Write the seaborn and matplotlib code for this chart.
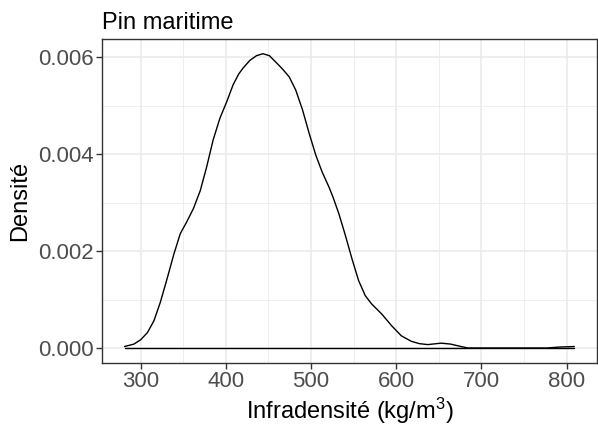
import numpy as np
import pandas as pd
import matplotlib
matplotlib.use("Agg")
import matplotlib.pyplot as plt
from matplotlib.ticker import MultipleLocator
import seaborn as sns

# density curve (kg/m3 vs density)
infradensite = [281, 292, 300, 308, 315.5, 323, 331, 339, 346.5, 354, 362, 370,
                377.5, 385, 393, 401, 408.5, 415, 420, 428, 436, 443.4, 451, 459,
                466.7, 474.4, 482, 490, 497.7, 505.5, 513, 521, 526, 532.6, 540.3,
                548, 555.8, 563.6, 571, 583, 594.5, 606, 617.8, 627, 637, 652.7,
                664, 676, 684, 730, 777, 792, 809]
densite = [0.00003, 0.00008, 0.00017, 0.00032, 0.00056, 0.00094, 0.00143, 0.00194,
           0.00236, 0.00260, 0.00288, 0.00325, 0.00374, 0.00429, 0.00474, 0.00508,
           0.00543, 0.00565, 0.00577, 0.00593, 0.00603, 0.00607, 0.00603, 0.00589,
           0.00575, 0.00559, 0.00532, 0.00491, 0.00443, 0.00398, 0.00363, 0.00332,
           0.00310, 0.00277, 0.00232, 0.00184, 0.00139, 0.00108, 0.00091, 0.00070,
           0.00046, 0.00025, 0.000137, 0.00009, 0.00007, 0.00010, 0.00008, 0.00003,
           0.0, 0.0, 0.0, 0.00002, 0.00003]

x_ticks = [300, 400, 500, 600, 700, 800]
y_ticks = [0.000, 0.002, 0.004, 0.006]

sns.set_theme(style="whitegrid")
plt.rcParams["font.family"] = ["Liberation Sans", "DejaVu Sans"]
plt.rcParams["mathtext.default"] = "regular"

df = pd.DataFrame({"x": infradensite, "y": densite})
base = pd.DataFrame({"x": [min(infradensite), max(infradensite)], "y": [0, 0]})

fig = plt.figure(figsize=(5.98, 4.30), dpi=100)
ax = fig.add_axes([0.1706, 0.1565, 0.998 - 0.1706, 0.9093 - 0.1565])

sns.lineplot(data=df, x="x", y="y", sort=False, estimator=None, color="black",
             linewidth=1.0, ax=ax)
sns.lineplot(data=base, x="x", y="y", sort=False, estimator=None, color="black",
             linewidth=1.0, ax=ax)

# ggplot-like expansion of 5%
xr = max(infradensite) - min(infradensite)
ax.set_xlim(min(infradensite) - 0.05 * xr, max(infradensite) + 0.05 * xr)
yr = max(densite)
ax.set_ylim(-0.05 * yr, yr * 1.05)

ax.set_xticks(x_ticks)
ax.set_yticks(y_ticks)
ax.set_yticklabels([f"{v:.3f}" for v in y_ticks])
ax.xaxis.set_minor_locator(MultipleLocator(50))
ax.yaxis.set_minor_locator(MultipleLocator(0.001))

ax.set_facecolor("white")
ax.grid(which="major", color="#EBEBEB", linewidth=1.2)
ax.grid(which="minor", color="#EBEBEB", linewidth=0.6)
ax.set_axisbelow(True)

for s in ax.spines.values():
    s.set_visible(True)
    s.set_color("#333333")
    s.set_linewidth(1.0)

ax.tick_params(axis="both", which="major", length=4, width=1.0, color="#333333",
               labelsize=16, labelcolor="#4D4D4D", pad=2, bottom=True, left=True)
ax.tick_params(axis="both", which="minor", length=0)

ax.set_xlabel("Infradensité (kg/m$^3$)", fontsize=17, color="black", labelpad=3)
ax.set_ylabel("Densité", fontsize=17, color="black", labelpad=5)
ax.set_title("Pin maritime", fontsize=17, color="black", loc="left", pad=7)

fig.savefig("out.png", dpi=100)
